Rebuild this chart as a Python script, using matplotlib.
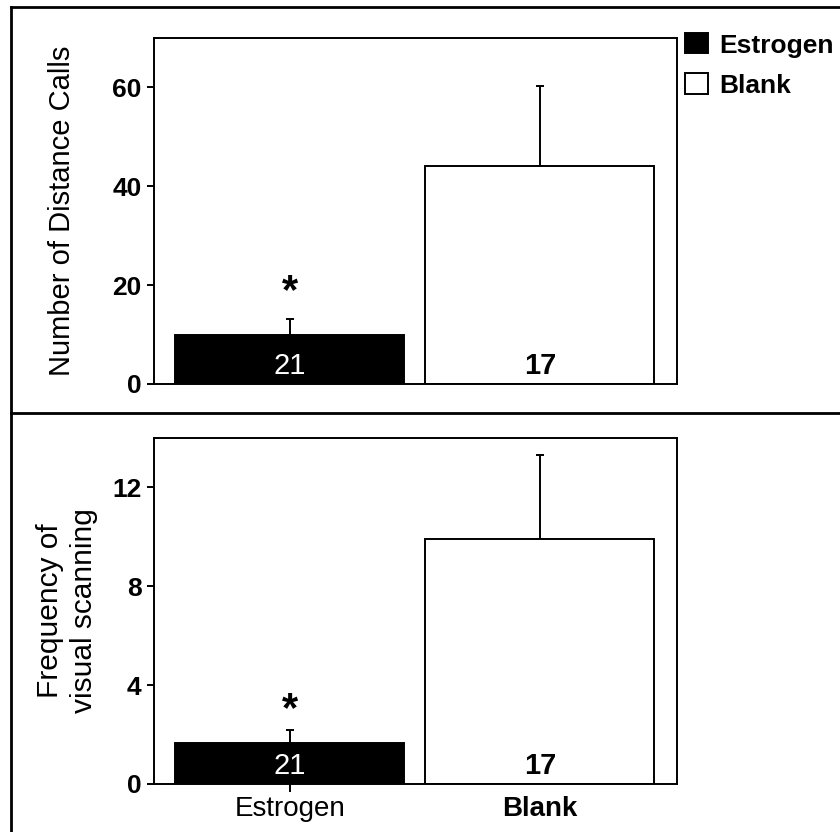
import matplotlib.pyplot as plt
from matplotlib.patches import Patch
from matplotlib.lines import Line2D

plt.rcParams['font.family'] = ['Liberation Sans', 'DejaVu Sans']

# data
groups = ['Estrogen', 'Blank']
n_animals = ['21', '17']
calls_mean = [10.0, 44.0]
calls_sem = [3.2, 16.2]
scan_mean = [1.65, 9.9]
scan_sem = [0.55, 3.4]
star_calls = 18.5
star_scan = 3.0

colors = ['black', 'white']
xpos = [0, 1]

fig = plt.figure(figsize=(8.4, 8.32), dpi=100)

ax1 = fig.add_axes([0.1833, 0.5385, 0.6226, 0.4159])
ax2 = fig.add_axes([0.1833, 0.0577, 0.6226, 0.4159])

panels = [
    (ax1, calls_mean, calls_sem, star_calls, 'Number of Distance Calls', 70, [0, 20, 40, 60], 21, 26),
    (ax2, scan_mean, scan_sem, star_scan, 'Frequency of\nvisual scanning', 14, [0, 4, 8, 12], 21.5, 10),
]

for ax, mean, sem, star, ylab, ymax, yt, yfs, lpad in panels:
    ax.bar(xpos, mean, width=0.916, color=colors, edgecolor='black', linewidth=1.4, zorder=2)
    for x, m, s in zip(xpos, mean, sem):
        ax.errorbar(x, m, yerr=[[0], [s]], fmt='none', ecolor='black', elinewidth=1.4,
                    capsize=3, capthick=1.4, zorder=1)
    for x, lab, c in zip(xpos, n_animals, ['white', 'black']):
        ax.text(x, ymax * 0.012, lab, ha='center', va='bottom', color=c, fontsize=21,
                fontweight='normal' if c == 'white' else 'bold', zorder=3)
    ax.text(xpos[0], star, '*', ha='center', va='center', fontsize=30, fontweight='bold')
    ax.set_xlim(-0.544, 1.548)
    ax.set_ylim(0, ymax)
    ax.set_yticks(yt)
    ax.set_ylabel(ylab, fontsize=yfs, labelpad=lpad, linespacing=1.3)
    for sp in ax.spines.values():
        sp.set_linewidth(1.4)
    ax.tick_params(axis='y', direction='out', length=5, width=1.4, labelsize=19, pad=4)
    for t in ax.get_yticklabels():
        t.set_fontweight('bold')

ax1.set_xticks([])
ax2.set_xticks(xpos)
ax2.set_xticklabels(groups, fontsize=20)
ax2.get_xticklabels()[1].set_fontweight('bold')
ax2.tick_params(axis='x', direction='out', length=6, width=1.4, pad=3)
ax2.xaxis.get_major_ticks()[1].tick1line.set_visible(False)

handles = [Patch(facecolor=c, edgecolor='black', linewidth=1.4) for c in colors]
leg = fig.legend(handles, groups, loc='upper left', bbox_to_anchor=(0.815, 0.96),
                 frameon=False, fontsize=19, handlelength=0.9, handleheight=0.8,
                 handletextpad=0.4, labelspacing=0.6, borderaxespad=0, borderpad=0)
for t in leg.get_texts():
    t.set_fontweight('bold')

# outer frame lines of the figure
fig.add_artist(Line2D([11 / 840, 11 / 840], [0, 1 - 7 / 832], color='black', lw=2))
fig.add_artist(Line2D([11 / 840, 1], [1 - 7 / 832, 1 - 7 / 832], color='black', lw=2))
fig.add_artist(Line2D([11 / 840, 1], [1 - 413 / 832, 1 - 413 / 832], color='black', lw=2))

fig.savefig('out.png', dpi=100)
